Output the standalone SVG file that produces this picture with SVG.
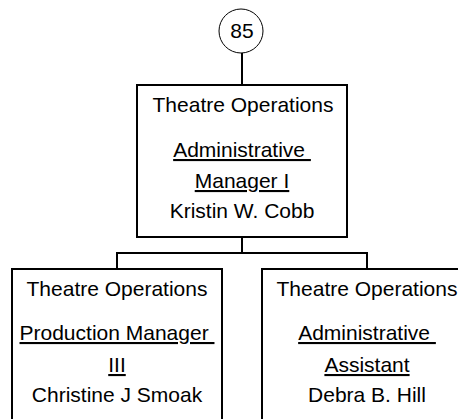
<svg xmlns="http://www.w3.org/2000/svg" width="458" height="419" viewBox="0 0 458 419">
<style>
.box{fill:#fff;stroke:#000;stroke-width:2}
.conn{fill:none;stroke:#000;stroke-width:2}
text{font-family:"Liberation Sans",Arial,sans-serif;font-size:21px;fill:#000;text-anchor:middle;white-space:pre}
.u{text-decoration:underline}
</style>
<rect width="458" height="419" fill="#fff"/>
<g id="connectors">
<line class="conn" x1="242" y1="53" x2="242" y2="85"/>
<polyline class="conn" points="242,237 242,253"/>
<polyline class="conn" points="117,269 117,253 367,253 367,269"/>
</g>
<g id="page-ref">
<circle cx="241" cy="31" r="22" fill="#fff" stroke="#000" stroke-width="1"/>
<text x="242" y="38">85</text>
</g>
<g id="node-cobb">
<rect class="box" x="137" y="85" width="210" height="152"/>
<text x="243" y="112">Theatre Operations</text>
<text class="u" x="242" y="157" xml:space="preserve">Administrative </text>
<text class="u" x="242" y="188">Manager I</text>
<text x="242" y="218">Kristin W. Cobb</text>
</g>
<g id="node-smoak">
<rect class="box" x="12" y="269" width="210" height="170"/>
<text x="117" y="296">Theatre Operations</text>
<text class="u" x="117" y="340" xml:space="preserve">Production Manager </text>
<text class="u" x="117" y="372">III</text>
<text x="117" y="402">Christine J Smoak</text>
</g>
<g id="node-hill">
<rect class="box" x="262" y="269" width="210" height="170"/>
<text x="367" y="296">Theatre Operations</text>
<text class="u" x="367" y="340" xml:space="preserve">Administrative </text>
<text class="u" x="367" y="372">Assistant</text>
<text x="367" y="402">Debra B. Hill</text>
</g>
</svg>
